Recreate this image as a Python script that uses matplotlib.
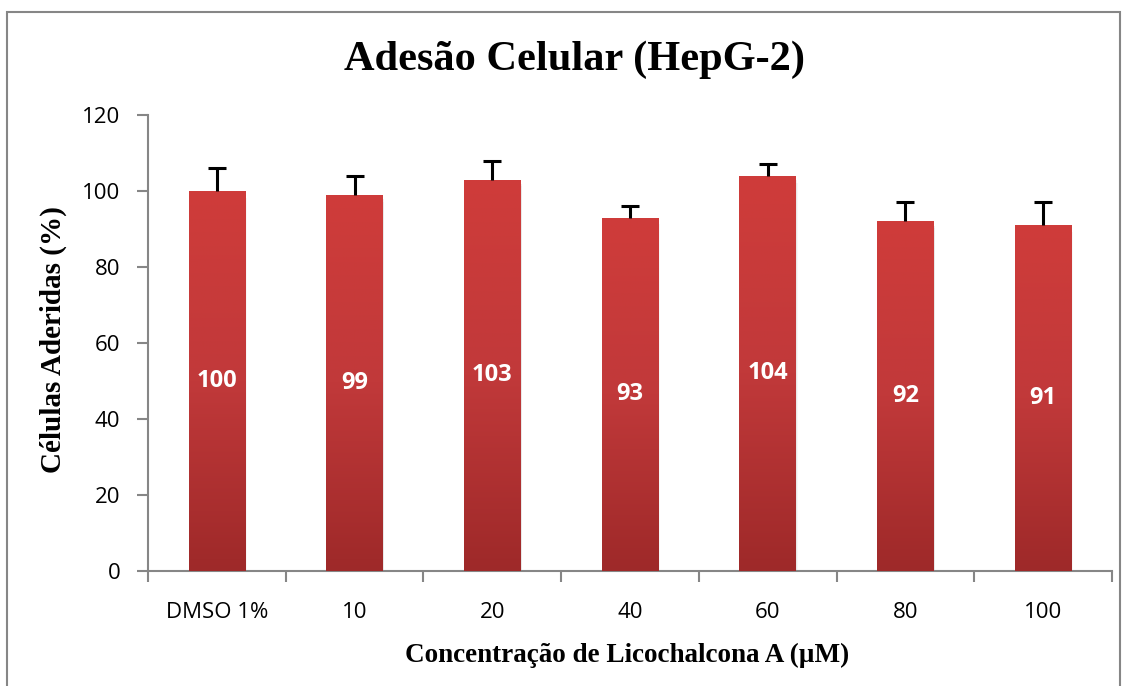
import numpy as np
import matplotlib
matplotlib.use("Agg")
import matplotlib.pyplot as plt
from matplotlib.colors import LinearSegmentedColormap
from matplotlib.patches import Rectangle

categories = ["DMSO 1%", "10", "20", "40", "60", "80", "100"]
values = [100, 99, 103, 93, 104, 92, 91]
errors = [6, 5, 5, 3, 3, 5, 6]
y_ticks = [0, 20, 40, 60, 80, 100, 120]

fig = plt.figure(figsize=(11.28, 6.86), dpi=100)
ax = fig.add_axes([148 / 1128, 1 - 571 / 686, (1112 - 148) / 1128, (571 - 115) / 686])

x = np.arange(len(categories))
bar_w = 0.41
bars = ax.bar(x, values, width=bar_w, color="none", edgecolor="none", zorder=3)

grad = LinearSegmentedColormap.from_list("redgrad", ["#9E2929", "#C1393A", "#CF3C3A"])
img = np.linspace(0, 1, 256).reshape(-1, 1)
for b, v in zip(bars, values):
    x0 = b.get_x()
    # soft shadow to the right of each bar
    for k, a in enumerate([0.10, 0.06, 0.03]):
        ax.add_patch(Rectangle((x0 + 0.004 * (k + 1), 0), bar_w, v - 0.6 * (k + 1),
                               facecolor="black", alpha=a, edgecolor="none", zorder=2))
    im = ax.imshow(img, cmap=grad, aspect="auto", origin="lower",
                   extent=[x0, x0 + bar_w, 0, v], zorder=3)
    im.set_clip_path(b)
    ax.text(b.get_x() + bar_w / 2, v / 2, f"{v}", ha="center", va="center",
            color="white", fontsize=17, fontweight="bold", family="Open Sans", zorder=5)

# upper-only error bars with a cap
tops = np.array(values) + np.array(errors)
ax.vlines(x, values, tops, color="black", linewidth=2.2, zorder=4)
ax.plot(x, tops, linestyle="none", marker="_", markersize=13, markeredgewidth=2.2,
        color="black", zorder=4)

ax.set_xlim(-0.5, len(categories) - 0.5)
ax.set_ylim(0, 120)
ax.set_yticks(y_ticks)
ax.set_yticklabels([str(t) for t in y_ticks], fontsize=16, family="Open Sans")
ax.set_xticks(x)
ax.set_xticklabels(categories, fontsize=16, family="Open Sans")
ax.set_xticks(np.arange(len(categories) + 1) - 0.5, minor=True)
ax.tick_params(axis="x", which="major", length=0, pad=22)
ax.tick_params(axis="x", which="minor", length=8, color="#868686", width=1.5)
ax.tick_params(axis="y", which="major", length=8, color="#868686", width=1.5, pad=12)

for s in ["top", "right"]:
    ax.spines[s].set_visible(False)
for s in ["left", "bottom"]:
    ax.spines[s].set_color("#868686")
    ax.spines[s].set_linewidth(1.5)

fig.text(53 / 1128, 1 - 340 / 686, "Células Aderidas (%)", ha="center", va="center",
         rotation=90, fontsize=21, fontweight="bold", family="Liberation Serif")
fig.text(627 / 1128, 1 - 655 / 686, "Concentração de Licochalcona A (µM)", ha="center",
         va="center", fontsize=19.5, fontweight="bold", family="Liberation Serif")
fig.text(574 / 1128, 1 - 60 / 686, "Adesão Celular (HepG-2)", ha="center", va="center",
         fontsize=30.5, fontweight="bold", family="Liberation Serif")

fig.patches.append(Rectangle((7 / 1128, -0.01), (1120 - 7) / 1128, 1 - 12 / 686 + 0.01,
                             transform=fig.transFigure, fill=False,
                             edgecolor="#868686", linewidth=1.5))

fig.savefig("out.png", dpi=100, facecolor="white")
